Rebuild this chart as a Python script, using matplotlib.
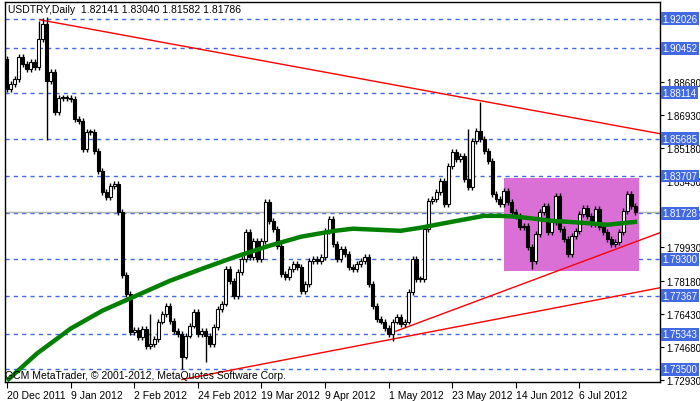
import matplotlib
matplotlib.use("Agg")
import matplotlib.pyplot as plt
import numpy as np

plt.rcParams['font.family'] = ['Liberation Sans', 'DejaVu Sans']

symbol_header = "USDTRY,Daily  1.82141 1.83040 1.81582 1.81786"
copyright_text = "GCM MetaTrader, © 2001-2012, MetaQuotes Software Corp."

first_open = 1.8990
closes = [
 1.8831,1.8857,1.8884,1.9000,1.8963,1.8937,1.8974,1.8947,1.9095,1.9174,1.8873,1.8921,1.8710,1.8783,1.8783,
 1.8783,1.8778,1.8673,1.8662,1.8514,1.8604,1.8604,1.8504,1.8398,1.8287,1.8261,1.8319,1.8329,1.8181,
 1.7849,1.7748,1.7548,1.7559,1.7521,1.7564,1.7474,1.7484,1.7511,1.7601,1.7643,1.7685,1.7606,1.7553,1.7537,
 1.7416,1.7527,1.7580,1.7653,1.7537,1.7553,1.7527,1.7484,1.7574,1.7669,1.7696,1.7880,1.7817,1.7738,1.7865,
 1.7933,1.8076,1.7944,1.8028,1.7933,1.8028,1.8234,1.8134,1.8092,1.8002,1.7854,1.7838,1.7880,1.7907,1.7891,
 1.7764,1.7801,1.7923,1.7933,1.7923,1.7944,1.8081,1.8144,1.8012,1.7933,1.7986,1.7960,1.7891,
 1.7880,1.7907,1.7923,1.7944,1.7801,1.7685,1.7616,1.7601,1.7569,1.7537,1.7601,1.7627,1.7590,1.7601,1.7759,
 1.7933,1.7828,1.7828,1.8092,1.8240,1.8250,1.8287,1.8345,1.8224,1.8424,1.8498,1.8461,1.8477,1.8356,1.8313,
 1.8556,1.8609,1.8567,1.8504,1.8451,
 1.8276,1.8250,1.8224,1.8292,1.8234,1.8181,1.8160,1.8102,1.8108,1.7997,1.7923,1.8065,1.8181,1.8213,1.8076,
 1.8129,1.8266,1.8092,1.8039,1.7960,1.8055,1.8081,1.8171,1.8203,1.8160,1.8118,1.8197,1.8102,1.8076,1.8039,
 1.8012,1.8023,1.8076,1.8187,1.8276,1.8213,1.8179]
high_overrides = {8: 1.9190, 9: 1.9205, 10: 1.9210, 119: 1.8762, 116: 1.8620, 36: 1.7640}
low_overrides = {10: 1.8562, 44: 1.7353, 97: 1.7500, 132: 1.7880, 50: 1.7390}

ma_bars = [0, 7.5, 16, 24, 32.5, 41, 49, 57.5, 66, 74, 82.5, 87, 99, 104, 112, 120, 124, 128.5, 137, 145, 151, 158.5]
ma_vals = [1.7289, 1.7432, 1.7564, 1.7659, 1.7738, 1.7817, 1.7880, 1.7944, 1.8002, 1.8050, 1.8081, 1.8092,
           1.8081, 1.8097, 1.8129, 1.8160, 1.8160, 1.8155, 1.8134, 1.8123, 1.8113, 1.8129]

trend_lines = [((8.25, 1.9196), (164.25, 1.8594)),
               ((97.5, 1.7548), (164.25, 1.8071)),
               ((44.0, 1.7295), (164.25, 1.7780))]
rect_bars = (125, 159)
rect_prices = (1.7870, 1.8361)

level_lines = [1.92026, 1.90452, 1.88114, 1.85685, 1.83707, 1.81728, 1.79300, 1.77367, 1.75343, 1.73500]
axis_ticks = [1.72930, 1.74680, 1.76430, 1.78180, 1.79930, 1.81680, 1.83430, 1.85180, 1.86930, 1.88680]
date_labels = ["20 Dec 2011", "9 Jan 2012", "2 Feb 2012", "24 Feb 2012", "19 Mar 2012", "9 Apr 2012",
               "1 May 2012", "23 May 2012", "14 Jun 2012", "6 Jul 2012"]
date_bars = [0, 16, 32, 48, 64, 80, 96, 112, 128, 144]

fig = plt.figure(figsize=(7, 4.02), dpi=100)
ax = fig.add_axes([5/700, 19/402, 655/700, 380/402])
ax.set_xlim(-0.5, 164.25)
ax.set_ylim(1.7282, 1.9290)

ax.add_patch(plt.Rectangle((rect_bars[0], rect_prices[0]), rect_bars[1]-rect_bars[0],
                           rect_prices[1]-rect_prices[0], color='#DA70D6', zorder=1, lw=0))

for lv in level_lines:
    ax.axhline(lv, color='#4169E1', ls=(0, (3, 3)), lw=1, zorder=0.5)
ax.axhline(1.81786, color='#B0B0B0', lw=1, zorder=0.6)

for (x0, y0), (x1, y1) in trend_lines:
    ax.plot([x0, x1], [y0, y1], color='red', lw=1, zorder=2)

opens = [first_open] + closes[:-1]
n = len(closes)
for i in range(n):
    o, c = opens[i], closes[i]
    hi = high_overrides.get(i, max(o, c) + 0.0015)
    lo = low_overrides.get(i, min(o, c) - 0.0015)
    ax.vlines(i, lo, hi, color='black', lw=1, zorder=3)
    fc = 'white' if c > o else 'black'
    h = max(abs(c - o), 0.0004)
    ax.bar(i, h, bottom=min(o, c), width=0.75, color=fc, edgecolor='black', lw=0.8, zorder=4)

ax.plot(ma_bars, ma_vals, color='#008000', lw=3.2, zorder=5, solid_capstyle='butt')

ax.yaxis.tick_right()
ax.set_yticks(axis_ticks)
ax.set_yticklabels([f"{v:.5f}" for v in axis_ticks], fontsize=7)
ax.tick_params(axis='y', length=3, pad=1.5)
for lv in level_lines:
    ax.text(1.0035, lv, f"{lv:.5f}", transform=ax.get_yaxis_transform(), fontsize=7, color='white',
            va='center', ha='left', zorder=10, clip_on=False,
            bbox=dict(boxstyle='square,pad=0.15', fc='#4169E1', ec='none'))

ax.set_xticks(date_bars)
ax.set_xticklabels(date_labels, fontsize=7.5, ha='left')
ax.tick_params(axis='x', length=4, pad=2)

ax.text(0.005, 0.995, symbol_header, transform=ax.transAxes, fontsize=7.5, va='top', ha='left', zorder=10)
ax.text(0.0, 0.005, copyright_text, transform=ax.transAxes, fontsize=7.5, va='bottom', ha='left', zorder=10)

for s in ax.spines.values():
    s.set_linewidth(1)

fig.savefig("out.png", dpi=100)
